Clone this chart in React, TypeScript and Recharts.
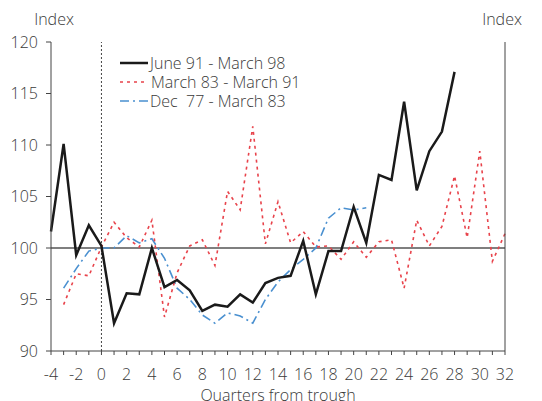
import React from 'react';
import { LineChart, Line, XAxis, YAxis, ReferenceLine, Legend } from 'recharts';

const quarters = [-4,-3,-2,-1,0,1,2,3,4,5,6,7,8,9,10,11,12,13,14,15,16,17,18,19,20,21,22,23,24,25,26,27,28,29,30,31,32];

const june91 = [101.6,110.1,99.3,102.2,100.2,92.7,95.6,95.5,100,96.2,96.9,95.9,93.9,94.5,94.3,95.5,94.7,96.6,97.1,97.3,100.7,95.5,99.7,99.7,104.0,100.5,107.1,106.6,114.2,105.6,109.4,111.3,117.1,null,null,null,null];

const march83 = [null,94.5,97.5,97.3,100.1,102.5,101.0,100.1,102.7,93.3,97.6,100.2,100.8,98.3,105.5,103.7,111.8,100.4,104.5,100.5,101.6,100.1,100.2,98.9,100.6,99.1,100.6,100.8,96.1,102.7,100.2,102.1,107.0,101.0,109.4,98.7,101.4];

const dec77 = [null,96.1,98.0,99.7,100,100,101.2,100.5,100.9,99.0,96.1,95.0,93.5,92.7,93.7,93.4,92.7,95.0,96.7,97.9,98.9,100.0,102.9,103.9,103.7,103.9,null,null,null,null,null,null,null,null,null,null,null];

const yTicks = [90,95,100,105,110,115,120];
const seriesNames = ['June 91 - March 98', 'March 83 - March 91', 'Dec  77 - March 83'];
const xLabel = 'Quarters from trough';
const yLabel = 'Index';

const data = quarters.map((q, i) => ({ q, a: june91[i], b: march83[i], c: dec77[i] }));

const TEXT = '#3a3a3a';
const AXIS = '#444';
const BLACK = '#1a1a1a';
const RED = '#e8434b';
const BLUE = '#4a90d0';

const XTick = (props: any) => {
  const { x, y, payload } = props;
  if (payload.value % 2 !== 0) return <g />;
  return (
    <text x={x} y={y} dy={23} textAnchor="middle" fill={TEXT} fontSize={16}>
      {payload.value}
    </text>
  );
};

const LegendContent = () => (
  <svg width={260} height={62} style={{ display: 'block' }}>
    <line x1={2} x2={30} y1={11} y2={11} stroke={BLACK} strokeWidth={2.5} />
    <text x={32} y={16.5} fill={TEXT} fontSize={16} xmlSpace="preserve">{seriesNames[0]}</text>
    <line x1={2} x2={30} y1={30} y2={30} stroke={RED} strokeWidth={1.6} strokeDasharray="3 4" />
    <text x={33} y={35.5} fill={TEXT} fontSize={16} xmlSpace="preserve">{seriesNames[1]}</text>
    <line x1={2} x2={30} y1={49} y2={49} stroke={BLUE} strokeWidth={1.6} strokeDasharray="9 4 2 4" />
    <text x={32} y={54.5} fill={TEXT} fontSize={16} xmlSpace="preserve">{seriesNames[2]}</text>
  </svg>
);

export default function App() {
  return (
    <div style={{ position: 'absolute', left: 0, top: 0, fontFamily: '"Open Sans", sans-serif', fontWeight: 300 }}>
      <LineChart width={542} height={401} data={data} margin={{ top: 42, right: 0, bottom: 0, left: 0 }}>
        <XAxis
          dataKey="q"
          type="number"
          domain={[-4, 32]}
          ticks={quarters}
          interval={0}
          height={50}
          tick={<XTick />}
          tickSize={4}
          stroke={AXIS}
          tickLine={{ stroke: AXIS }}
          axisLine={{ stroke: AXIS }}
          label={{ value: xLabel, position: 'insideBottom', offset: 0, fill: TEXT, fontSize: 16 }}
        />
        <YAxis
          yAxisId="left"
          orientation="left"
          domain={[90, 120]}
          ticks={yTicks}
          interval={0}
          width={51}
          tickSize={5}
          tickMargin={8}
          tick={{ fill: TEXT, fontSize: 16 }}
          stroke={AXIS}
          label={{ value: yLabel, position: 'top', offset: 17, dx: 28.5, fill: TEXT, fontSize: 16 }}
        />
        <YAxis
          yAxisId="right"
          orientation="right"
          domain={[90, 120]}
          ticks={yTicks}
          interval={0}
          width={37}
          tickSize={5}
          tickMargin={3}
          tick={{ fill: TEXT, fontSize: 16, textAnchor: 'start' }}
          stroke={AXIS}
          label={{ value: yLabel, position: 'top', offset: 17, dx: -21.5, fill: TEXT, fontSize: 16 }}
        />
        <ReferenceLine yAxisId="left" y={100} stroke="#555" strokeWidth={1.5} />
        <ReferenceLine yAxisId="left" x={0} stroke="#444" strokeDasharray="2 2" strokeWidth={1} />
        <Legend
          layout="vertical"
          align="center"
          verticalAlign="middle"
          content={<LegendContent />}
          wrapperStyle={{ left: 118, top: 52, width: 260, height: 62 }}
        />
        <Line yAxisId="left" type="linear" dataKey="c" name={seriesNames[2]} stroke={BLUE} strokeWidth={1.6} strokeDasharray="9 4 2 4" dot={false} isAnimationActive={false} />
        <Line yAxisId="left" type="linear" dataKey="b" name={seriesNames[1]} stroke={RED} strokeWidth={1.6} strokeDasharray="3 4" dot={false} isAnimationActive={false} />
        <Line yAxisId="left" type="linear" dataKey="a" name={seriesNames[0]} stroke={BLACK} strokeWidth={2.5} dot={false} isAnimationActive={false} />
      </LineChart>
    </div>
  );
}
